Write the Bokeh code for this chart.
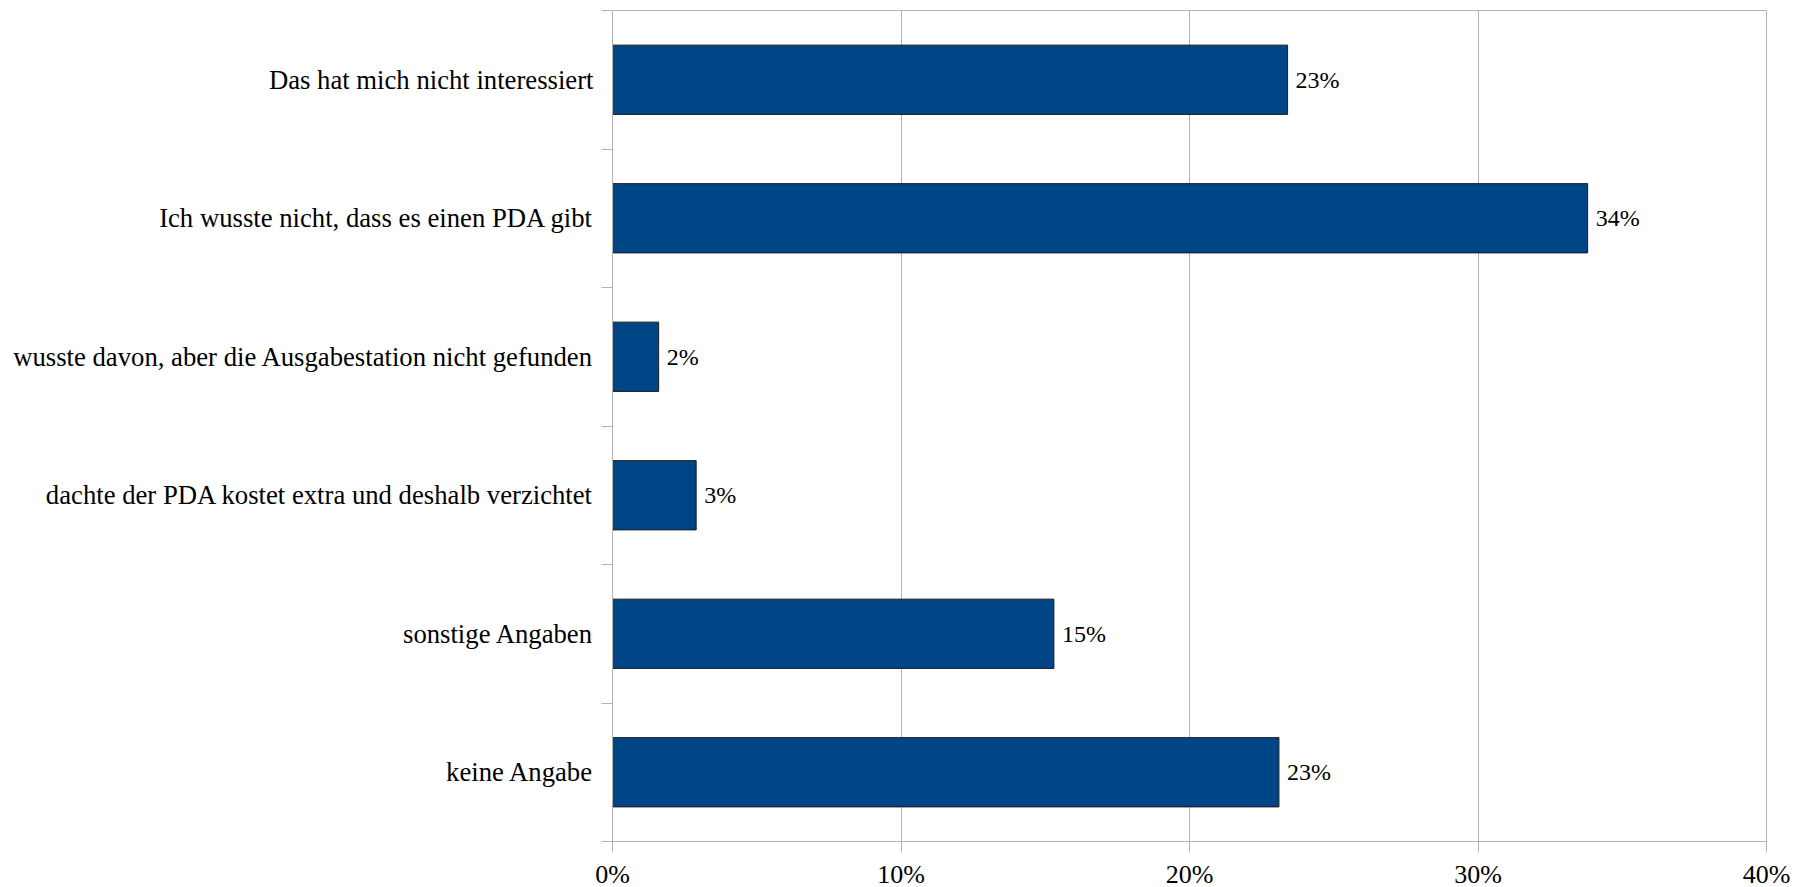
from bokeh.plotting import figure
from bokeh.models import Range1d, FixedTicker, ColumnDataSource, GlobalInlineStyleSheet
from bokeh.core.properties import value
from bokeh.embed import file_html
from bokeh.resources import INLINE

categories = [
    "Das hat mich nicht interessiert",
    "Ich wusste nicht, dass es einen PDA gibt",
    "wusste davon, aber die Ausgabestation nicht gefunden",
    "dachte der PDA kostet extra und deshalb verzichtet",
    "sonstige Angaben",
    "keine Angabe",
]
values = [23.4, 33.8, 1.6, 2.9, 15.3, 23.1]
x_ticks = [0, 10, 20, 30, 40]

n = len(categories)
ypos = [n - i - 0.5 for i in range(n)]
labels = [f"{round(v)}%" for v in values]

src = ColumnDataSource(dict(y=ypos, v=values, lab=labels, cat=categories))

FONT = "'Liberation Serif', 'Times New Roman', serif"

p = figure(width=1803, height=891, output_backend="svg", toolbar_location=None,
           x_range=Range1d(0, 40), y_range=Range1d(0, n),
           min_border_left=612, min_border_right=37, min_border_top=10, min_border_bottom=50)
p.stylesheets = [GlobalInlineStyleSheet(css="html, body { overflow: hidden; margin: 0; }")]
p.background_fill_color = "white"
p.border_fill_color = "white"
p.outline_line_color = "#b3b3b3"
p.outline_line_width = 1

p.hbar(y="y", right="v", left=0, height=0.5, source=src,
       fill_color="#004586", line_color="#1a1a1a", line_width=1)
p.text(x="v", y="y", text="lab", source=src, x_offset=8, text_baseline="middle",
       text_align="left", text_font=value(FONT), text_font_size="24px", text_color="black")

# x axis
p.xaxis.ticker = FixedTicker(ticks=x_ticks)
p.xaxis.major_label_overrides = {t: f"{t}%" for t in x_ticks}
p.xaxis.major_label_text_font = FONT
p.xaxis.major_label_text_font_size = "26px"
p.xaxis.major_label_text_color = "black"
p.xaxis.axis_line_color = "#b3b3b3"
p.xaxis.major_tick_line_color = "#b3b3b3"
p.xaxis.major_tick_out = 11
p.xaxis.major_tick_in = 0
p.xaxis.minor_tick_line_color = None
p.xaxis.major_label_standoff = 7
p.xgrid.ticker = FixedTicker(ticks=x_ticks)
p.xgrid.grid_line_color = "#b3b3b3"
p.ygrid.grid_line_color = None

# y axis with category labels at centres, boundary ticks as minor ticks
p.yaxis.ticker = FixedTicker(ticks=ypos, minor_ticks=list(range(n + 1)))
p.yaxis.major_label_overrides = {y: c for y, c in zip(ypos, categories)}
p.yaxis.major_label_text_font = FONT
p.yaxis.major_label_text_font_size = "26.7px"
p.yaxis.major_label_text_color = "black"
p.yaxis.axis_line_color = "#b3b3b3"
p.yaxis.major_tick_line_color = None
p.yaxis.major_tick_out = 0
p.yaxis.major_tick_in = 0
p.yaxis.minor_tick_line_color = "#b3b3b3"
p.yaxis.minor_tick_out = 11
p.yaxis.minor_tick_in = 0
p.yaxis.major_label_standoff = 8

open("out.html", "w").write(file_html(p, INLINE))
